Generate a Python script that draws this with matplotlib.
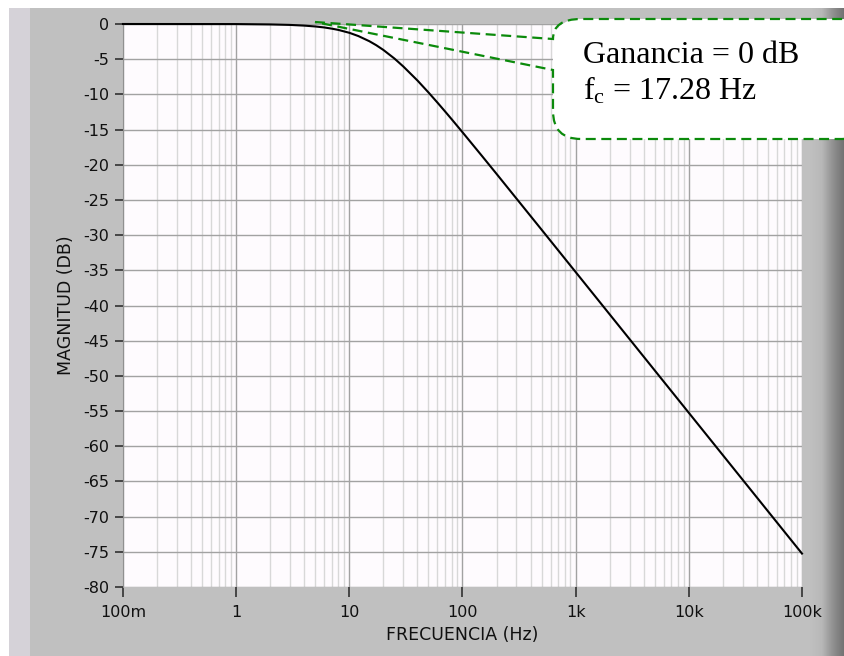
import numpy as np
import matplotlib
matplotlib.use("Agg")
import matplotlib.pyplot as plt
from matplotlib.patches import Rectangle, PathPatch
from matplotlib.path import Path

plt.rcParams['mathtext.fontset'] = 'custom'
plt.rcParams['mathtext.rm'] = 'Liberation Serif'
plt.rcParams['mathtext.it'] = 'Liberation Serif:italic'

# respuesta en frecuencia
frecuencia = [0.1, 1, 2, 3, 4, 5, 6, 7, 8, 10, 12, 15, 17.28, 20, 25, 30, 40, 50,
              60, 70, 80, 100, 150, 200, 300, 500, 700, 1000, 2000, 5000,
              10000, 20000, 50000, 100000]
magnitud = [0.0, -0.01, -0.06, -0.13, -0.23, -0.35, -0.49, -0.66, -0.84, -1.25,
            -1.71, -2.44, -3.01, -3.69, -4.90, -6.04, -8.03, -9.72, -11.16,
            -12.41, -13.51, -15.38, -18.83, -21.30, -24.81, -29.23, -32.15,
            -35.25, -41.27, -49.23, -55.25, -61.27, -69.23, -75.25]

xticks = [0.1, 1, 10, 100, 1000, 10000, 100000]
xticklabels = ['100m', '1', '10', '100', '1k', '10k', '100k']
yticks = list(range(0, -85, -5))
yticklabels = [str(v) for v in yticks]

W, H = 845, 656
fig = plt.figure(figsize=(W / 100, H / 100), dpi=100, facecolor='white')


def fx(x):
    return x / W


def fy(y):
    return 1 - y / H


# marco gris estilo LabVIEW
fig.add_artist(Rectangle((fx(9), 0), fx(21), fy(8), transform=fig.transFigure,
                         facecolor='#d5d2d8', edgecolor='none', zorder=-2))
fig.add_artist(Rectangle((fx(30), 0), fx(W - 30), fy(8), transform=fig.transFigure,
                         facecolor='#c0c0c0', edgecolor='none', zorder=-2))
gax = fig.add_axes([fx(810), 0, fx(W - 810), fy(8)], zorder=-1)
grad = np.linspace(0, 1, 64).reshape(1, -1)
gax.imshow(grad, aspect='auto', cmap=matplotlib.colors.LinearSegmentedColormap.from_list(
    'g', ['#c0c0c0', '#b8b8b8', '#909090', '#707070']), extent=[0, 1, 0, 1])
gax.axis('off')

ax = fig.add_axes([fx(123), fy(587), fx(802 - 123), (587 - 24) / H])
ax.set_facecolor('#fefbfe')
ax.plot(frecuencia, magnitud, color='black', lw=1.5, clip_on=False, zorder=3)
ax.set_xscale('log')
ax.set_xlim(0.1, 100000)
ax.set_ylim(-80, 0)

ax.set_xticks(xticks)
ax.set_xticklabels(xticklabels)
ax.set_yticks(yticks)
ax.set_yticklabels(yticklabels)
ax.xaxis.set_minor_locator(matplotlib.ticker.LogLocator(base=10, subs=np.arange(2, 10)))
ax.xaxis.set_minor_formatter(matplotlib.ticker.NullFormatter())
ax.tick_params(axis='x', which='minor', length=0)
ax.tick_params(axis='x', which='major', length=7, width=1.2, color='#303030',
               pad=6, labelsize=11.5, labelcolor='#101010')
ax.tick_params(axis='y', which='major', length=6, width=1.2, color='#303030',
               pad=4, labelsize=11.5, labelcolor='#101010')

ax.grid(True, which='major', axis='both', color='#a2a2a2', lw=1.0)
ax.grid(True, which='minor', axis='x', color='#d8d8d8', lw=1.0)
ax.set_axisbelow(True)
for s in ['top', 'right', 'bottom']:
    ax.spines[s].set_visible(False)
ax.spines['left'].set_color('#909090')

ax.set_xlabel('FRECUENCIA (Hz)', fontsize=12.5, color='#101010', labelpad=4)
ax.set_ylabel('MAGNITUD (DB)', fontsize=12.5, color='#101010', labelpad=6)

# globo de anotacion
x0, x1, y0, y1, r = 553, 870, 19, 139, 28
fondo = Path([(fx(x0), fy(y0 + r)), (fx(x0), fy(y0)), (fx(x0 + r), fy(y0)),
              (fx(x1 - r), fy(y0)), (fx(x1), fy(y0)), (fx(x1), fy(y0 + r)),
              (fx(x1), fy(y1 - r)), (fx(x1), fy(y1)), (fx(x1 - r), fy(y1)),
              (fx(x0 + r), fy(y1)), (fx(x0), fy(y1)), (fx(x0), fy(y1 - r)),
              (fx(x0), fy(y0 + r))],
             [Path.MOVETO, Path.CURVE3, Path.CURVE3, Path.LINETO, Path.CURVE3,
              Path.CURVE3, Path.LINETO, Path.CURVE3, Path.CURVE3, Path.LINETO,
              Path.CURVE3, Path.CURVE3, Path.CLOSEPOLY])
fig.add_artist(PathPatch(fondo, transform=fig.transFigure, facecolor='white',
                         edgecolor='none', zorder=5))
borde = Path([(fx(315), fy(22)), (fx(x0), fy(39)), (fx(x0), fy(y0)), (fx(x0 + r), fy(y0)),
              (fx(x1 - r), fy(y0)), (fx(x1), fy(y0)), (fx(x1), fy(y0 + r)),
              (fx(x1), fy(y1 - r)), (fx(x1), fy(y1)), (fx(x1 - r), fy(y1)),
              (fx(x0 + r), fy(y1)), (fx(x0), fy(y1)), (fx(x0), fy(y1 - r)),
              (fx(x0), fy(70)), (fx(315), fy(22))],
             [Path.MOVETO, Path.LINETO, Path.CURVE3, Path.CURVE3, Path.LINETO,
              Path.CURVE3, Path.CURVE3, Path.LINETO, Path.CURVE3, Path.CURVE3,
              Path.LINETO, Path.CURVE3, Path.CURVE3, Path.LINETO, Path.LINETO])
fig.add_artist(PathPatch(borde, transform=fig.transFigure, facecolor='none',
                         edgecolor='#0b8a0b', lw=1.6, linestyle=(0, (4.5, 2.5)),
                         zorder=6))
fig.text(fx(583), fy(63), 'Ganancia = 0 dB', fontsize=23, family='Liberation Serif',
         va='baseline', ha='left', zorder=7)
fig.text(fx(583), fy(100), r'f$_{\mathrm{c}}$ = 17.28 Hz', fontsize=23,
         family='Liberation Serif', va='baseline', ha='left', zorder=7)

fig.savefig('out.png', dpi=100)
